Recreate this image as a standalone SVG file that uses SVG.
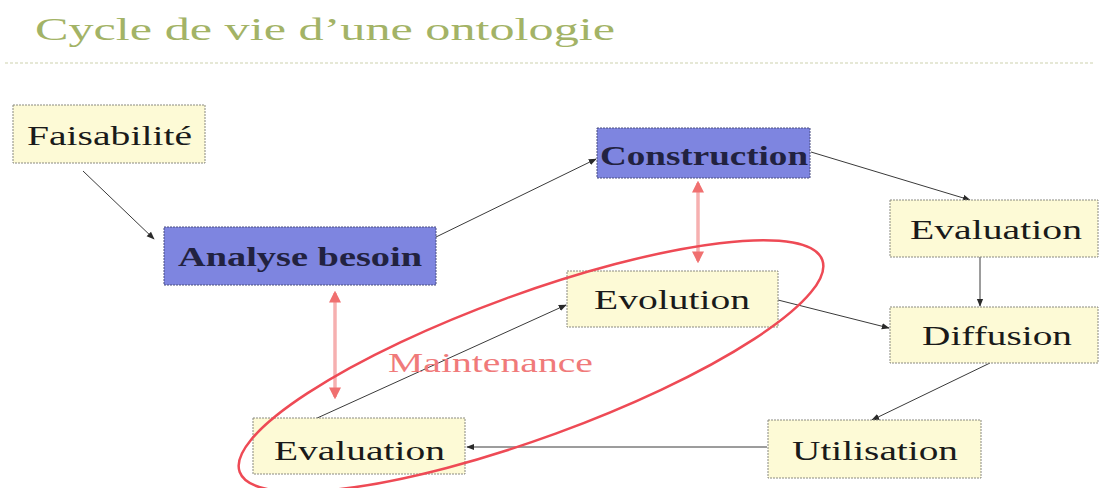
<svg xmlns="http://www.w3.org/2000/svg" width="1101" height="488" viewBox="0 0 1101 488">
  <style>
    .box-y { fill: #fdfad6; stroke: #8a8a80; stroke-width: 1; stroke-dasharray: 2 1; }
    .box-b { fill: #7e85e0; stroke: #4a4f80; stroke-width: 1; stroke-dasharray: 2 1; }
    .lbl { font-family: "Liberation Serif", "DejaVu Serif", serif; font-size: 28px; fill: #1a1a1a; }
    .bold { font-weight: bold; fill: #222240; }
    .flow { fill: none; stroke: #3a3a3a; stroke-width: 1; marker-end: url(#head); }
    .link { fill: none; stroke: #f6b0b0; stroke-width: 3.5; marker-start: url(#phead); marker-end: url(#phead); }
  </style>
  <defs>
    <marker id="head" viewBox="0 0 10 10" refX="9" refY="5" markerWidth="8" markerHeight="8" markerUnits="userSpaceOnUse" orient="auto">
      <path d="M0,1 L10,5 L0,9 z" fill="#2a2a2a"/>
    </marker>
    <marker id="phead" viewBox="0 0 10 10" refX="8" refY="5" markerWidth="12" markerHeight="12" markerUnits="userSpaceOnUse" orient="auto-start-reverse">
      <path d="M0,0 L10,5 L0,10 z" fill="#f07070"/>
    </marker>
  </defs>

  <rect width="1101" height="488" fill="#ffffff"/>

  <!-- title -->
  <g id="title">
    <text x="35" y="40" font-family="Liberation Serif, serif" font-size="31" fill="#a3b366" textLength="580" lengthAdjust="spacingAndGlyphs">Cycle de vie d’une ontologie</text>
    <line x1="5" y1="63" x2="1095" y2="63" stroke="#e6e8d6" stroke-width="2" stroke-dasharray="3 2"/>
  </g>

  <!-- connectors -->
  <g id="connectors">
    <line class="flow" x1="83" y1="171" x2="154" y2="239"/>
    <line class="flow" x1="436" y1="237" x2="596" y2="159"/>
    <line class="flow" x1="811" y1="152" x2="970" y2="200"/>
    <line class="flow" x1="980" y1="257" x2="980" y2="306"/>
    <line class="flow" x1="778" y1="300" x2="889" y2="328"/>
    <line class="flow" x1="990" y1="363" x2="872" y2="420"/>
    <line class="flow" x1="767" y1="447" x2="467" y2="447"/>
    <line class="flow" x1="315" y1="419" x2="566" y2="305"/>
    <line class="link" x1="698" y1="183" x2="698" y2="261"/>
    <line class="link" x1="335" y1="293" x2="335" y2="397"/>
  </g>

  <!-- nodes -->
  <g id="faisabilite">
    <rect class="box-y" x="13" y="105" width="192" height="58"/>
    <text class="lbl" x="27" y="145" textLength="165" lengthAdjust="spacingAndGlyphs">Faisabilité</text>
  </g>
  <g id="analyse-besoin">
    <rect class="box-b" x="164" y="227" width="272" height="58"/>
    <text class="lbl bold" x="178" y="266" textLength="244" lengthAdjust="spacingAndGlyphs">Analyse besoin</text>
  </g>
  <g id="construction">
    <rect class="box-b" x="597" y="128" width="213" height="50"/>
    <text class="lbl bold" x="600" y="165" font-size="30" textLength="208" lengthAdjust="spacingAndGlyphs">Construction</text>
  </g>
  <g id="evaluation-1">
    <rect class="box-y" x="890" y="200" width="208" height="57"/>
    <text class="lbl" x="910" y="239" textLength="172" lengthAdjust="spacingAndGlyphs">Evaluation</text>
  </g>
  <g id="diffusion">
    <rect class="box-y" x="890" y="307" width="208" height="56"/>
    <text class="lbl" x="922" y="345" textLength="150" lengthAdjust="spacingAndGlyphs">Diffusion</text>
  </g>
  <g id="evolution">
    <rect class="box-y" x="567" y="271" width="211" height="56"/>
    <text class="lbl" x="594" y="309" textLength="156" lengthAdjust="spacingAndGlyphs">Evolution</text>
  </g>
  <g id="utilisation">
    <rect class="box-y" x="768" y="420" width="213" height="58"/>
    <text class="lbl" x="792" y="460" textLength="166" lengthAdjust="spacingAndGlyphs">Utilisation</text>
  </g>
  <g id="evaluation-2">
    <rect class="box-y" x="253" y="418" width="212" height="56"/>
    <text class="lbl" x="274" y="460" textLength="171" lengthAdjust="spacingAndGlyphs">Evaluation</text>
  </g>

  <!-- maintenance loop -->
  <g id="maintenance">
    <ellipse cx="531" cy="366" rx="310" ry="72" transform="rotate(-20 531 366)" fill="none" stroke="#ee4a55" stroke-width="2.5"/>
    <text x="388" y="372" font-family="Liberation Serif, serif" font-size="27" fill="#f07a7a" textLength="205" lengthAdjust="spacingAndGlyphs">Maintenance</text>
  </g>
</svg>
